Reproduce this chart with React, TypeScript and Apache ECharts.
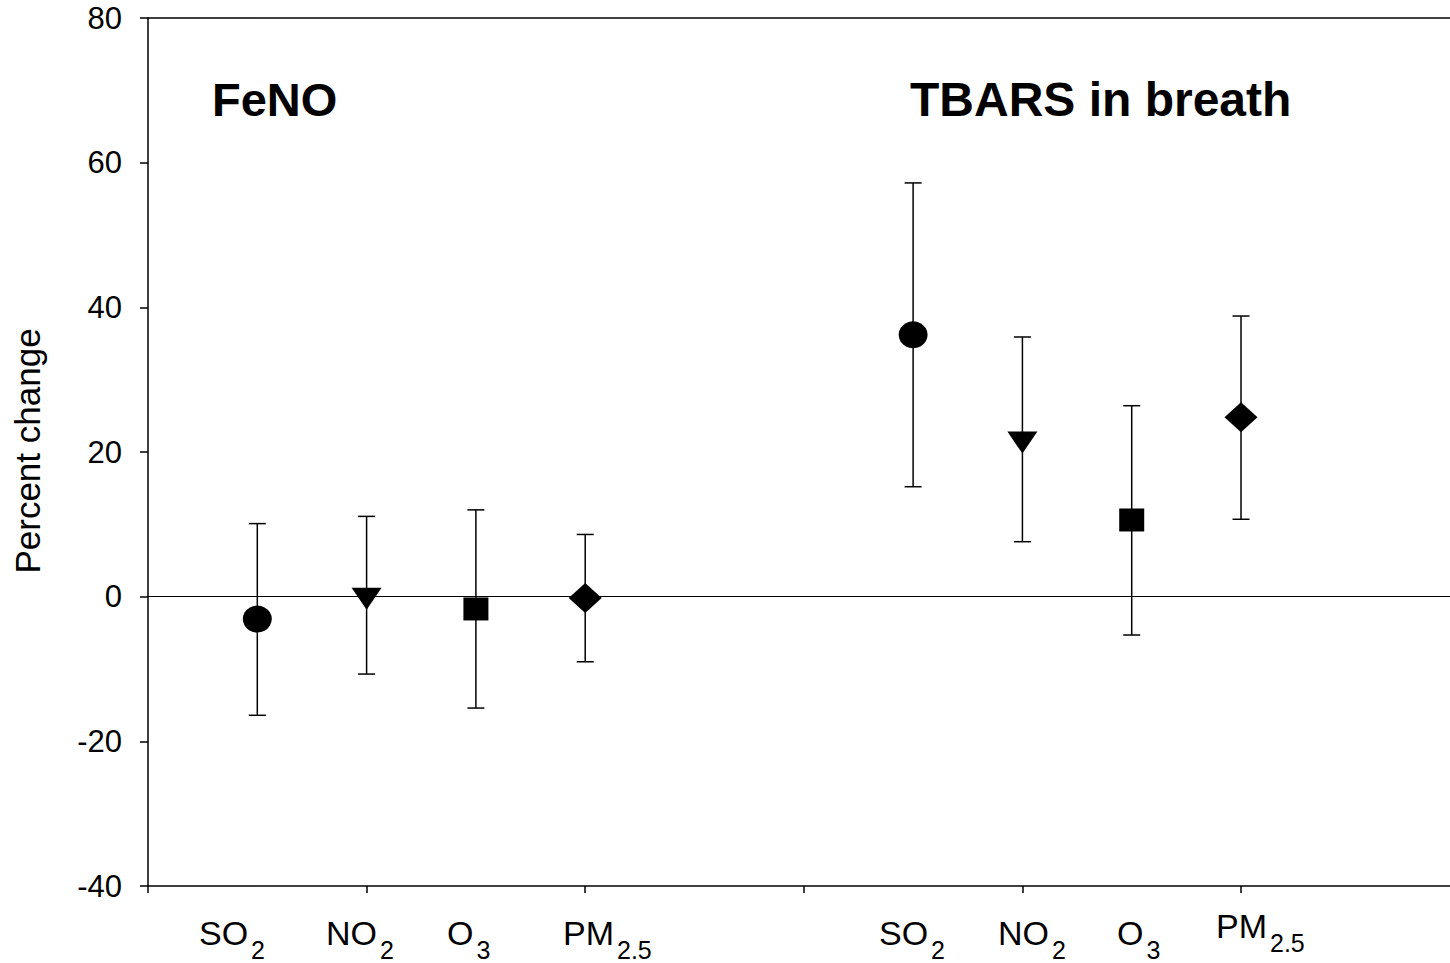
import React, { useEffect, useRef } from "react";
import * as echarts from "echarts";

// ---- data ----
const pollutantMain = ["SO", "NO", "O", "PM"];
const pollutantSub = ["2", "2", "3", "2.5"];
const pollutantSymbols = ["circle", "triangle", "rect", "diamond"];

const fenoX = [0.5, 1, 1.5, 2];
const fenoMean = [-3.1, -0.3, -1.7, -0.2];
const fenoLower = [-16.4, -10.7, -15.4, -9.0];
const fenoUpper = [10.1, 11.1, 12.0, 8.6];

const tbarsX = [3.5, 4, 4.5, 5];
const tbarsMean = [36.2, 21.3, 10.6, 24.8];
const tbarsLower = [15.2, 7.6, -5.3, 10.7];
const tbarsUpper = [57.2, 35.9, 26.4, 38.8];

const yTicks = [-40, -20, 0, 20, 40, 60, 80];
const xTicks = [0, 1, 2, 3, 4, 5];
const xMin = 0;
const xMax = 5.956;
const groupTitles = ["FeNO", "TBARS in breath"];
const yTitle = "Percent change";

const FONT = "'Liberation Sans', Arial, Helvetica, sans-serif";

export default function App() {
  const ref = useRef<HTMLDivElement>(null);
  useEffect(() => {
    if (!ref.current) return;
    const chart = echarts.init(ref.current, null, { renderer: "svg" });

    const symbolSizes: any[] = [[29, 27], [30, 22], [25, 23], [33, 30]];
    const symbolRotates = [0, 180, 0, 0];

    const errData: number[][] = [];
    fenoX.forEach((x, i) => errData.push([x, fenoLower[i], fenoUpper[i]]));
    tbarsX.forEach((x, i) => errData.push([x, tbarsLower[i], tbarsUpper[i]]));

    const scatterSeries = pollutantMain.map((p, i) => ({
      type: "scatter",
      name: p + pollutantSub[i],
      symbol: pollutantSymbols[i],
      symbolSize: symbolSizes[i],
      symbolRotate: symbolRotates[i],
      itemStyle: { color: "#000", opacity: 1 },
      z: 5,
      data: [
        [fenoX[i], fenoMean[i]],
        [tbarsX[i], tbarsMean[i]],
      ],
    }));

    // x labels (text under the axis)
    const labelLeft = [199, 326, 447, 563, 879, 998, 1117, 1216];
    const labelShift = [0, 0, 0, 0, 0, 0, 0, -7];
    const labelGraphics: any[] = [];
    for (let g = 0; g < 2; g++) {
      for (let i = 0; i < 4; i++) {
        const k = g * 4 + i;
        labelGraphics.push({
          type: "text",
          x: labelLeft[k],
          y: 916 + labelShift[k],
          style: {
            text: `{m|${pollutantMain[i]}}{s|${pollutantSub[i]}}`,
            verticalAlign: "top",
            align: "left",
            rich: {
              m: { fontSize: 34, fontFamily: FONT, fill: "#000", verticalAlign: "top" },
              s: {
                fontSize: 25,
                fontFamily: FONT,
                fill: "#000",
                verticalAlign: "top",
                padding: [21, 0, 0, 3],
              },
            },
          },
        });
      }
    }

    const lineBlack = { color: "#000", width: 1.5 };

    chart.setOption({
      animation: false,
      backgroundColor: "#fff",
      grid: {
        left: 148,
        top: 18,
        right: 0,
        height: 868,
        containLabel: false,
      },
      xAxis: [
        {
          type: "value",
          min: xMin,
          max: xMax,
          interval: 1,
          axisLine: { show: true, onZero: false, lineStyle: lineBlack },
          axisTick: {
            show: true,
            inside: false,
            length: 7,
            customValues: xTicks,
            lineStyle: lineBlack,
          },
          axisLabel: { show: false },
          splitLine: { show: false },
        },
        {
          type: "value",
          position: "top",
          min: xMin,
          max: xMax,
          axisLine: { show: true, onZero: false, lineStyle: lineBlack },
          axisTick: { show: false },
          axisLabel: { show: false },
          splitLine: { show: false },
        },
      ],
      yAxis: {
        type: "value",
        min: yTicks[0],
        max: yTicks[yTicks.length - 1],
        interval: 20,
        axisLine: { show: true, onZero: false, lineStyle: lineBlack },
        axisTick: { show: true, inside: false, length: 8, lineStyle: lineBlack },
        axisLabel: {
          color: "#000",
          fontSize: 31,
          fontFamily: FONT,
          margin: 26,
        },
        splitLine: { show: false },
      },
      series: [
        {
          type: "custom",
          name: "CI",
          z: 3,
          data: errData,
          renderItem: (params: any, api: any) => {
            const x = api.value(0);
            const lo = api.coord([x, api.value(1)]);
            const hi = api.coord([x, api.value(2)]);
            const hw = 8.5;
            const style = { stroke: "#000", lineWidth: 1.5 };
            return {
              type: "group",
              children: [
                { type: "line", shape: { x1: lo[0], y1: lo[1], x2: hi[0], y2: hi[1] }, style },
                { type: "line", shape: { x1: hi[0] - hw, y1: hi[1], x2: hi[0] + hw, y2: hi[1] }, style },
                { type: "line", shape: { x1: lo[0] - hw, y1: lo[1], x2: lo[0] + hw, y2: lo[1] }, style },
              ],
            };
          },
          markLine: {
            silent: true,
            symbol: ["none", "none"],
            label: { show: false },
            lineStyle: { color: "#000", width: 1, type: "solid", opacity: 1 },
            emphasis: { disabled: true },
            data: [{ yAxis: 0 }],
          },
        },
        ...scatterSeries,
      ],
      graphic: [
        {
          type: "text",
          x: 212,
          y: 99,
          style: {
            text: groupTitles[0],
            fontSize: 47,
            fontWeight: "bold",
            fontFamily: FONT,
            fill: "#000",
            align: "left",
            verticalAlign: "middle",
          },
        },
        {
          type: "text",
          x: 910,
          y: 99,
          style: {
            text: groupTitles[1],
            fontSize: 48,
            fontWeight: "bold",
            fontFamily: FONT,
            fill: "#000",
            align: "left",
            verticalAlign: "middle",
          },
        },
        {
          type: "text",
          x: 27,
          y: 451,
          rotation: Math.PI / 2,
          style: {
            text: yTitle,
            fontSize: 35,
            fontFamily: FONT,
            fill: "#000",
            align: "center",
            verticalAlign: "middle",
          },
        },
        ...labelGraphics,
      ],
    });
    return () => chart.dispose();
  }, []);
  return (
    <div
      ref={ref}
      style={{ position: "absolute", left: 0, top: 0, width: 1450, height: 963 }}
    />
  );
}
